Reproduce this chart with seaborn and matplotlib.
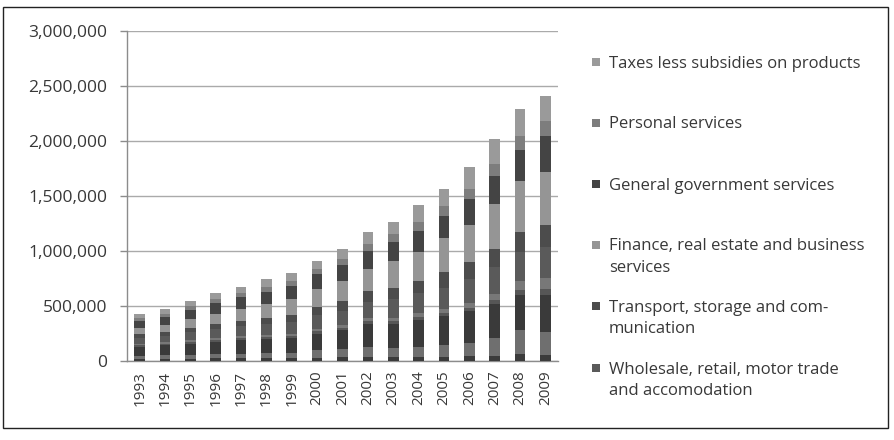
import numpy as np
import matplotlib
matplotlib.use("Agg")
import matplotlib.pyplot as plt
from matplotlib.patches import Rectangle
from matplotlib.ticker import FuncFormatter, FixedLocator
import seaborn as sns

# Gross domestic product by industry, current prices (R million)
years = ["1993", "1994", "1995", "1996", "1997", "1998", "1999", "2000", "2001",
         "2002", "2003", "2004", "2005", "2006", "2007", "2008", "2009"]

agriculture = [18000, 19000, 19000, 23000, 24000, 25000, 26000, 29000, 32000,
               40000, 40000, 40000, 32000, 42000, 45000, 61000, 55000]
mining = [32000, 35000, 37000, 40000, 44000, 45000, 50000, 68000, 76000,
          91000, 76000, 91000, 118000, 121000, 167000, 218000, 212000]
manufacturing = [80000, 87000, 102000, 112000, 119000, 128000, 131000, 152000, 170000,
                 206000, 222000, 242000, 258000, 288000, 310000, 324000, 334000]
electricity = [15000, 16000, 17000, 18000, 19000, 20000, 21000, 22000, 23000,
               24000, 25000, 27000, 28000, 31000, 35000, 46000, 58000]
construction = [12000, 14000, 16000, 18000, 20000, 21000, 21000, 23000, 24000,
                27000, 30000, 34000, 36000, 45000, 56000, 76000, 94000]
wholesale = [53000, 59000, 72000, 81000, 88000, 95000, 102000, 120000, 128000,
             150000, 170000, 180000, 196000, 222000, 238000, 262000, 280000]
transport = [32000, 35000, 41000, 47000, 54000, 60000, 69000, 80000, 88000,
             98000, 103000, 117000, 137000, 148000, 165000, 186000, 202000]
finance = [58000, 66000, 79000, 91000, 103000, 120000, 140000, 164000, 182000,
           203000, 245000, 264000, 309000, 342000, 409000, 467000, 485000]
government = [63000, 71000, 83000, 96000, 108000, 115000, 120000, 130000, 150000,
              161000, 173000, 191000, 206000, 233000, 255000, 282000, 327000]
personal = [25000, 28000, 31000, 34000, 36000, 40000, 44000, 50000, 50000,
            66000, 70000, 80000, 88000, 91000, 115000, 127000, 134000]
taxes = [36000, 43000, 48000, 55000, 60000, 73000, 75000, 74000, 95000,
         104000, 107000, 152000, 156000, 203000, 220000, 239000, 229000]

series_names = ["Agriculture, forestry and fishing", "Mining and quarrying",
                "Manufacturing", "Electricity, gas and water", "Construction",
                "Wholesale, retail, motor trade\nand accomodation",
                "Transport, storage and com-\nmunication",
                "Finance, real estate and business\nservices",
                "General government services", "Personal services",
                "Taxes less subsidies on products"]
series_values = [agriculture, mining, manufacturing, electricity, construction,
                 wholesale, transport, finance, government, personal, taxes]
series_colors = ["#3b3b3b", "#6f6f6f", "#3a3a3a", "#565656", "#787878",
                 "#5a5a5a", "#4c4c4c", "#959595", "#444444", "#7d7d7d", "#9a9a9a"]

sns.set_theme(style="white")
plt.rcParams["font.family"] = ["Open Sans", "DejaVu Sans"]
text_color = "#383838"
axis_color = "#8c8c8c"

W, H = 895, 440
fig = plt.figure(figsize=(W / 100, H / 100), dpi=100)
fig.patch.set_facecolor("white")
ax = fig.add_axes([127 / W, 1 - 361 / H, (558 - 127) / W, (361 - 31) / H])

# Stacked bars: draw running totals from the top series down so each
# shorter bar covers the lower part of the previous one.
cum = np.cumsum(np.array(series_values, dtype=float), axis=0)
for k in range(len(series_values) - 1, -1, -1):
    sns.barplot(x=years, y=cum[k], color=series_colors[k], saturation=1,
                width=0.42, errorbar=None, linewidth=0, ax=ax, zorder=3)

ax.set_xlim(-0.5, len(years) - 0.5)
ax.set_ylim(0, 3000000)
ax.set_yticks(np.arange(0, 3000001, 500000))
ax.yaxis.set_major_formatter(FuncFormatter(lambda v, p: f"{int(v):,}"))
ax.grid(axis="y", color="#aaaaaa", linewidth=1.0, zorder=0)
ax.grid(axis="x", visible=False)
ax.set_axisbelow(True)

ax.set_xticks(range(len(years)))
ax.set_xticklabels(years, rotation=90)
ax.xaxis.set_minor_locator(FixedLocator(np.arange(-0.5, len(years), 1.0)))
ax.tick_params(axis="x", which="major", length=0, pad=7, labelsize=11,
               labelcolor=text_color)
ax.tick_params(axis="x", which="minor", length=5, width=1, color=axis_color,
               direction="out")
ax.tick_params(axis="y", which="major", length=5, width=1, color=axis_color,
               direction="out", pad=9, labelsize=12.5, labelcolor=text_color,
               left=True)
ax.set_xlabel("")
ax.set_ylabel("")

for side in ["top", "right"]:
    ax.spines[side].set_visible(False)
for side in ["left", "bottom"]:
    ax.spines[side].set_visible(True)
    ax.spines[side].set_color(axis_color)
    ax.spines[side].set_linewidth(1)

# Legend (top six series, listed from the top of the stack down)
legend_rows = [(10, 62), (9, 123), (8, 184), (7, 245), (6, 306), (5, 368)]
for idx, ypix in legend_rows:
    fig.patches.append(Rectangle(((592) / W, 1 - (ypix + 4) / H), 8 / W, 8 / H,
                                 transform=fig.transFigure,
                                 facecolor=series_colors[idx], edgecolor="none"))
    fig.text(609 / W, 1 - (ypix - 6.5) / H, series_names[idx], ha="left", va="top",
             fontsize=12, color=text_color, linespacing=1.48)

# Outer frame
fig.patches.append(Rectangle((3 / W, 1 - 428 / H), (888 - 3) / W, (428 - 7) / H,
                             transform=fig.transFigure, fill=False,
                             edgecolor="#222222", linewidth=1))

fig.savefig("out.png", dpi=100, facecolor="white")
